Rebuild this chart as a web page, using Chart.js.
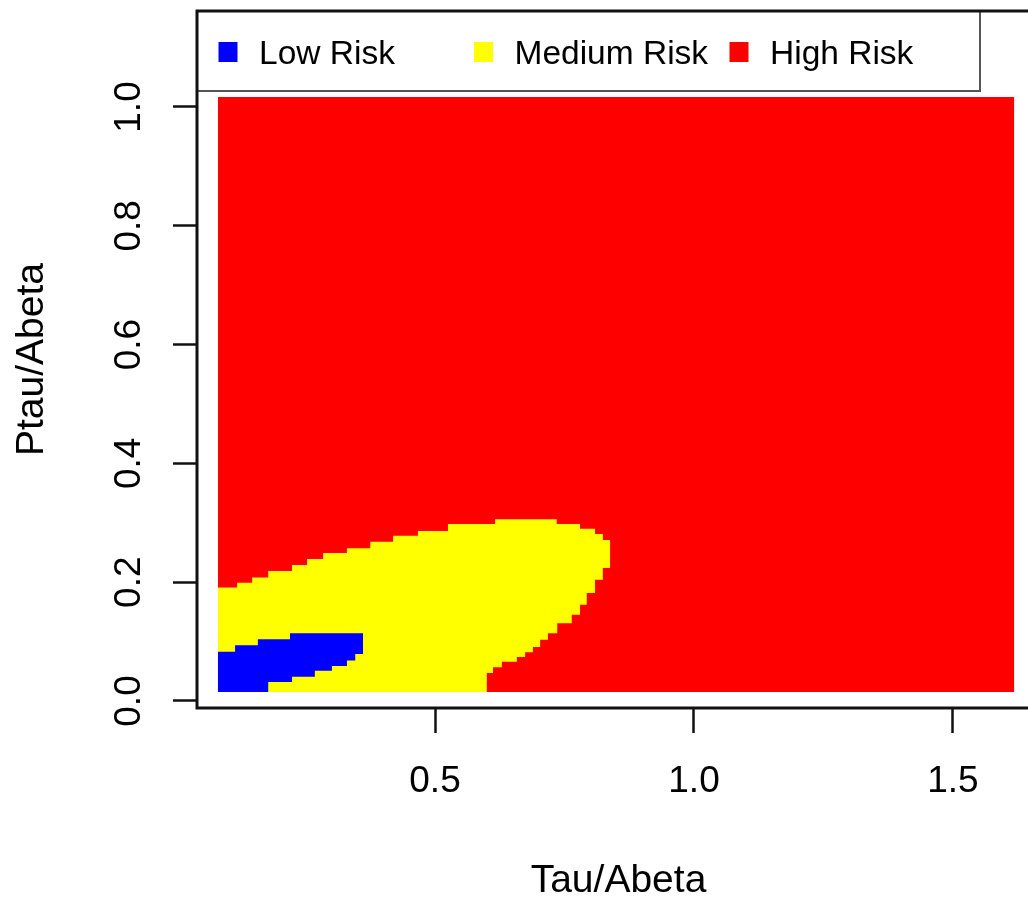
<!DOCTYPE html>
<html>
<head>
<meta charset="utf-8">
<script src="https://cdn.jsdelivr.net/npm/chart.js@4.4.1/dist/chart.umd.min.js"></script>
<style>
  html, body { margin: 0; padding: 0; background: #fff; overflow: hidden; }
  #wrap { width: 1080px; height: 899px; }
</style>
</head>
<body>
<div id="wrap"><canvas id="riskChart" width="1080" height="899"></canvas></div>
<script>
// Risk classes over the Tau/Abeta x Ptau/Abeta plane
const riskLabels = ['Low Risk', 'Medium Risk', 'High Risk'];
const riskColors = ['#0000ff', '#ffff00', '#ff0000'];

const xTicks = [0.5, 1.0, 1.5];
const yTicks = [0.0, 0.2, 0.4, 0.6, 0.8, 1.0];

// extent of the evaluated grid; high risk covers whatever is left
const gridX = [0.081, 1.618];
const gridY = [0.015, 1.017];

// medium risk band, upper edge (step edges on x, level of each step)
const medTopX = [0.081, 0.118, 0.147, 0.178, 0.224, 0.253, 0.284, 0.330, 0.375,
                 0.419, 0.467, 0.525, 0.616, 0.735, 0.780, 0.809, 0.824, 0.838];
const medTopY = [0.191, 0.199, 0.208, 0.219, 0.229, 0.239, 0.249, 0.257, 0.268,
                 0.278, 0.286, 0.298, 0.306, 0.298, 0.290, 0.281, 0.271];
// medium risk band, lower edge
const medLowX = [0.081, 0.600, 0.612, 0.629, 0.658, 0.674, 0.689, 0.703, 0.718,
                 0.736, 0.764, 0.780, 0.793, 0.809, 0.824, 0.838];
const medLowY = [0.015, 0.047, 0.057, 0.066, 0.074, 0.082, 0.091, 0.103, 0.114,
                 0.131, 0.145, 0.162, 0.182, 0.204, 0.224];

// low risk patch
const lowTopX = [0.081, 0.114, 0.158, 0.220, 0.361];
const lowTopY = [0.083, 0.094, 0.104, 0.114];
const lowLowX = [0.081, 0.178, 0.224, 0.268, 0.301, 0.330, 0.346, 0.361];
const lowLowY = [0.015, 0.032, 0.041, 0.051, 0.059, 0.068, 0.079];

const FONT = '"Liberation Sans", Arial, Helvetica, sans-serif';

// staircase through the step edges
function stepPath(xs, ys) {
    const pts = [];
    ys.forEach((y, i) => {
        pts.push({ x: xs[i], y: y });
        pts.push({ x: xs[i + 1], y: y });
    });
    return pts;
}

// closed outline: upper edge left to right, lower edge back
function band(topX, topY, lowX, lowY) {
    return stepPath(topX, topY).concat(stepPath(lowX, lowY).reverse());
}

const regions = [
    band(lowTopX, lowTopY, lowLowX, lowLowY),
    band(medTopX, medTopY, medLowX, medLowY),
    band(gridX, [gridY[1]], gridX, [gridY[0]])
];

const datasets = regions.map((pts, i) => ({
    label: riskLabels[i],
    data: pts,
    showLine: true,
    fill: 'shape',
    backgroundColor: riskColors[i],
    borderColor: 'rgba(0,0,0,0)',
    borderWidth: 0,
    pointRadius: 0,
    pointHoverRadius: 0,
    tension: 0
}));

// box around the plot and the boxed legend at its top
const frameLegend = {
    id: 'frameLegend',
    afterDraw(chart) {
        const { ctx, chartArea: a } = chart;
        ctx.save();
        const box = { left: a.left, top: a.top, right: 980, bottom: 91 };
        ctx.fillStyle = '#fff';
        ctx.fillRect(box.left, box.top, box.right - box.left, box.bottom - box.top);
        ctx.strokeStyle = '#555';
        ctx.lineWidth = 2;
        ctx.strokeRect(box.left, box.top, box.right - box.left, box.bottom - box.top);

        ctx.font = '33.5px ' + FONT;
        ctx.textBaseline = 'alphabetic';
        ctx.textAlign = 'left';
        chart.data.datasets.forEach((ds, i) => {
            const cx = box.left + 31 + 255.5 * i;
            ctx.fillStyle = ds.backgroundColor;
            ctx.fillRect(cx - 9.5, 42, 19, 20);
            ctx.fillStyle = '#000';
            ctx.fillText(ds.label, cx + 31, 64);
        });

        ctx.strokeStyle = '#111';
        ctx.lineWidth = 3;
        ctx.strokeRect(a.left, a.top, a.right - a.left, a.bottom - a.top);
        ctx.restore();
    }
};

new Chart(document.getElementById('riskChart'), {
    type: 'scatter',
    data: { datasets: datasets },
    options: {
        responsive: false,
        animation: false,
        devicePixelRatio: 1,
        layout: { padding: { left: 0, top: 11, right: 40, bottom: 0 } },
        plugins: {
            legend: { display: false },
            tooltip: { enabled: false }
        },
        scales: {
            x: {
                type: 'linear',
                min: 0.0405,
                max: 1.668,
                afterBuildTicks: s => { s.ticks = xTicks.map(v => ({ value: v })); },
                afterFit: s => { s.height = 191; s.paddingLeft = 0; s.paddingRight = 0; },
                border: { display: false },
                grid: { drawOnChartArea: false, drawTicks: true, tickLength: 25, tickWidth: 2.5, tickColor: '#111' },
                ticks: {
                    color: '#000', padding: 27, minRotation: 0, maxRotation: 0,
                    font: { family: FONT, size: 37 },
                    callback: v => v.toFixed(1)
                },
                title: {
                    display: true, text: 'Tau/Abeta', color: '#000', padding: { top: 0, bottom: -2 },
                    font: { family: FONT, size: 39, lineHeight: 1 }
                }
            },
            y: {
                type: 'linear',
                min: -0.0118,
                max: 1.1616,
                afterBuildTicks: s => { s.ticks = yTicks.map(v => ({ value: v })); },
                afterFit: s => { s.width = 197; s.paddingTop = 0; s.paddingBottom = 0; },
                border: { display: false },
                grid: { drawOnChartArea: false, drawTicks: true, tickLength: 24, tickWidth: 2.5, tickColor: '#111' },
                ticks: {
                    color: '#000', padding: 17, minRotation: 90, maxRotation: 90, crossAlign: 'center',
                    font: { family: FONT, size: 37 },
                    callback: v => v.toFixed(1)
                },
                title: {
                    display: true, text: 'Ptau/Abeta', color: '#000', padding: { top: 13, bottom: 0 },
                    font: { family: FONT, size: 39, lineHeight: 1 }
                }
            }
        }
    },
    plugins: [frameLegend]
});
</script>
</body>
</html>
